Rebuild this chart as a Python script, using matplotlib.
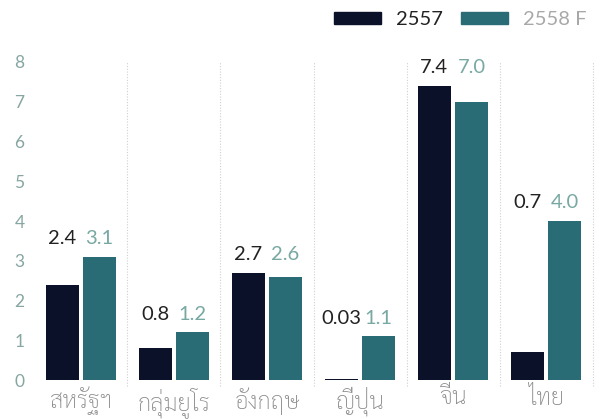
import numpy as np
import matplotlib.pyplot as plt
from matplotlib.patches import Patch

plt.rcParams['font.family'] = ['Lato', 'Sarabun', 'DejaVu Sans']

## data (GDP growth, %)
countries = ['สหรัฐฯ', 'กลุ่มยูโร', 'อังกฤษ', 'ญี่ปุ่น', 'จีน', 'ไทย']
y2557 = [2.4, 0.8, 2.7, 0.03, 7.4, 0.7]
y2558 = [3.1, 1.2, 2.6, 1.1, 7.0, 4.0]
lab2557 = ['2.4', '0.8', '2.7', '0.03', '7.4', '0.7']
lab2558 = ['3.1', '1.2', '2.6', '1.1', '7.0', '4.0']

dark = '#0b1129'
teal = '#2a6c76'

fig = plt.figure(figsize=(6.08, 4.19), dpi=100)
ax = fig.add_axes([30/608, 39/419, 570/608, 318/419])

x = np.arange(len(countries))
w = 0.36
ax.bar(x - 0.2, y2557, w, color=dark)
ax.bar(x + 0.2, y2558, w, color=teal)

## value labels above each pair
for i in range(len(x)):
    top = max(y2557[i], y2558[i])
    ax.annotate(lab2557[i], (x[i] - 0.2, top), xytext=(0, 7), textcoords='offset points',
                ha='center', va='bottom', fontsize=14.5, color='#222222', annotation_clip=False)
    ax.annotate(lab2558[i], (x[i] + 0.2, top), xytext=(0, 7), textcoords='offset points',
                ha='center', va='bottom', fontsize=14.5, color='#78a8a2', annotation_clip=False)

## dotted separators between groups
for s in x + 0.5:
    ax.axvline(s, ymin=-0.02, ymax=1.0, color='#d0d0d0', lw=0.8, ls=(0, (1, 1.5)), clip_on=False)

ax.set_xlim(-0.548, 5.58)
ax.set_ylim(0, 8)
ax.set_yticks(range(0, 9))
ax.set_xticks(x)
ax.set_xticklabels(countries, fontsize=17, color='#8a8a8a', family=['Sarabun'], weight='light')
ax.tick_params(axis='y', length=0, labelsize=12.5, labelcolor='#86a6a1', pad=4)
ax.tick_params(axis='x', length=0, pad=5)
for sp in ax.spines.values():
    sp.set_visible(False)

handles = [Patch(color=dark), Patch(color=teal)]
leg = fig.legend(handles, ['2557', '2558 F'], loc='upper right', bbox_to_anchor=(598/608, 1.0),
                 ncol=2, frameon=False, handlelength=2.35, handleheight=0.5,
                 columnspacing=0.9, handletextpad=0.75, borderaxespad=0.15, prop={'size': 14.5})
leg.get_texts()[0].set_color('#222222')
leg.get_texts()[1].set_color('#a8a8a8')

fig.savefig('out.png', dpi=100)
